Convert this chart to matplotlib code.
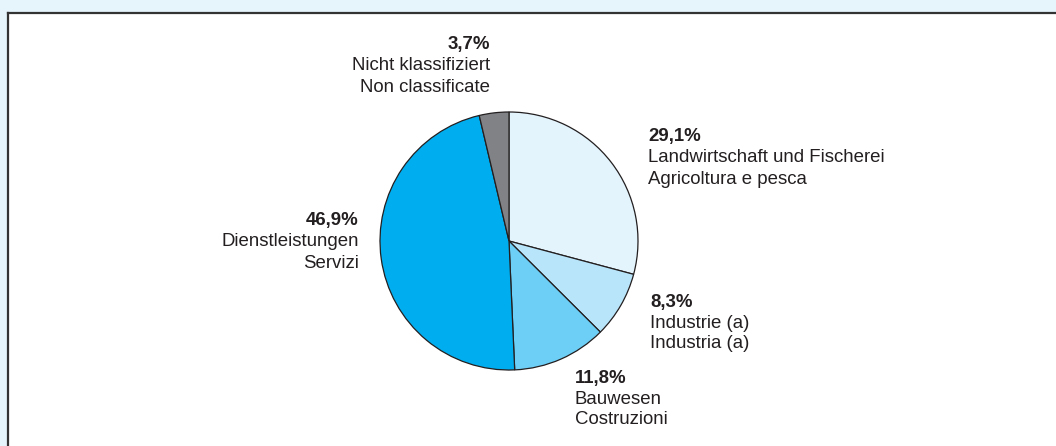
import matplotlib.pyplot as plt
from matplotlib.patches import Rectangle

plt.rcParams['font.family'] = ['Liberation Sans', 'DejaVu Sans']

pcts = [29.1, 8.3, 11.8, 46.9, 3.7]
pct_labels = ['29,1%', '8,3%', '11,8%', '46,9%', '3,7%']
names_de = ['Landwirtschaft und Fischerei', 'Industrie (a)', 'Bauwesen',
            'Dienstleistungen', 'Nicht klassifiziert']
names_it = ['Agricoltura e pesca', 'Industria (a)', 'Costruzioni',
            'Servizi', 'Non classificate']
colors = ['#E3F4FD', '#B9E5FA', '#6DCFF6', '#00AEEF', '#808285']

W, H = 1056, 446
fig = plt.figure(figsize=(W / 100, H / 100), dpi=100)
ax = fig.add_axes([0, 0, 1, 1])

# frame: light blue band, white panel with dark top/left edge
ax.add_patch(Rectangle((0, 0), W, H, facecolor='#E6F4FC', edgecolor='none', zorder=0))
ax.add_patch(Rectangle((8, 0), W - 8, H - 13, facecolor='white', edgecolor='none', zorder=0))
ax.plot([8, W], [H - 13, H - 13], color='#333333', lw=1.6, zorder=1)
ax.plot([8, 8], [0, H - 13], color='#333333', lw=1.6, zorder=1)

ax.pie(pcts, colors=colors, startangle=90, counterclock=False,
       center=(509, H - 241), radius=129, frame=True,
       wedgeprops=dict(edgecolor='#231F20', linewidth=0.9))
ax.set_xlim(0, W)
ax.set_ylim(0, H)
ax.set_aspect('auto')
ax.axis('off')

# label anchors (x, y of first line, alignment)
label_pos = [(648, 137, 'left'), (650, 302, 'left'), (575, 378, 'left'),
             (359, 221, 'right'), (490, 45, 'right')]
fs = 13.4
for i, (x, y, ha) in enumerate(label_pos):
    ax.text(x, H - y, pct_labels[i], ha=ha, va='center', fontsize=fs,
            fontweight='bold', color='#231F20')
    ax.text(x, H - y - 21, names_de[i], ha=ha, va='center', fontsize=fs, color='#231F20')
    ax.text(x, H - y - 42, names_it[i], ha=ha, va='center', fontsize=fs, color='#231F20')

fig.savefig('out.png', dpi=100)
